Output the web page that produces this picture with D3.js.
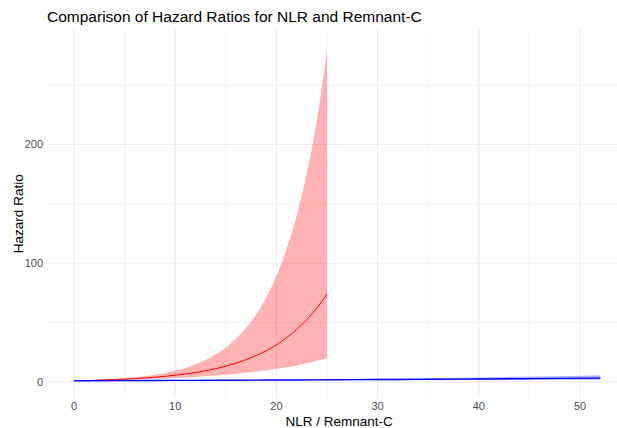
<!DOCTYPE html>
<html>
<head>
<meta charset="utf-8">
<script src="https://cdn.jsdelivr.net/npm/d3@7"></script>
<style>
  body { margin: 0; background: #fff; }
  text { font-family: "Liberation Sans", Arial, sans-serif; }
</style>
</head>
<body>
<div id="chart"></div>
<script>
// NLR curve (red)
var nlrX     = [2, 3, 4, 5, 6, 7, 8, 9, 10, 11, 12, 13, 14, 15, 16, 17, 18, 19, 20, 21, 22, 23, 24, 25];
var nlrHR    = [1.41, 1.68, 1.99, 2.37, 2.81, 3.34, 3.96, 4.71, 5.60, 6.65, 7.90, 9.38, 11.1, 13.2, 15.7, 18.7, 22.2, 26.3, 31.3, 37.2, 44.2, 52.5, 62.3, 74.0];
var nlrUpper = [1.57, 1.96, 2.46, 3.08, 3.85, 4.82, 6.03, 7.55, 9.45, 11.8, 14.8, 18.5, 23.2, 29.0, 36.3, 45.5, 56.9, 71.3, 89.2, 112, 140, 176, 221, 280];
var nlrLower = [1.27, 1.43, 1.61, 1.82, 2.05, 2.31, 2.60, 2.94, 3.31, 3.73, 4.21, 4.74, 5.34, 6.03, 6.79, 7.66, 8.63, 9.73, 11.0, 12.4, 13.9, 15.7, 17.7, 19.9];

// Remnant-C curve (blue)
var remX     = [0, 4, 8, 12, 16, 20, 24, 28, 32, 36, 40, 44, 48, 52];
var remHR    = [1, 1.09, 1.20, 1.31, 1.43, 1.57, 1.71, 1.87, 2.05, 2.24, 2.45, 2.68, 2.93, 3.20];
var remUpper = [1, 1.14, 1.30, 1.48, 1.69, 1.93, 2.20, 2.50, 2.86, 3.26, 3.71, 4.24, 4.83, 5.51];
var remLower = [1, 1.05, 1.10, 1.15, 1.21, 1.27, 1.33, 1.40, 1.47, 1.54, 1.62, 1.70, 1.78, 1.87];

var xTicks = [0, 10, 20, 30, 40, 50];
var xMinor = [5, 15, 25, 35, 45];
var yTicks = [0, 100, 200];
var yMinor = [50, 150, 250];

var W = 617, H = 428;
var panel = {left: 47.7, right: 626.6, top: 29, bottom: 398.5};

var svg = d3.select("#chart")
  .append("svg")
    .attr("width", W)
    .attr("height", H);

var x = d3.scaleLinear()
  .domain([-2.6, 54.6])
  .range([panel.left, panel.right]);

var y = d3.scaleLinear()
  .domain([-14, 297.4])
  .range([panel.bottom, panel.top]);

// gridlines
var grid = svg.append("g");
grid.selectAll(".xminor").data(xMinor).enter().append("line")
  .attr("x1", d => x(d)).attr("x2", d => x(d))
  .attr("y1", panel.top).attr("y2", panel.bottom)
  .attr("stroke", "#ebebeb").attr("stroke-width", 0.6);
grid.selectAll(".yminor").data(yMinor).enter().append("line")
  .attr("x1", panel.left).attr("x2", panel.right)
  .attr("y1", d => y(d)).attr("y2", d => y(d))
  .attr("stroke", "#ebebeb").attr("stroke-width", 0.6);
grid.selectAll(".xmajor").data(xTicks).enter().append("line")
  .attr("x1", d => x(d)).attr("x2", d => x(d))
  .attr("y1", panel.top).attr("y2", panel.bottom)
  .attr("stroke", "#ebebeb").attr("stroke-width", 1.1);
grid.selectAll(".ymajor").data(yTicks).enter().append("line")
  .attr("x1", panel.left).attr("x2", panel.right)
  .attr("y1", d => y(d)).attr("y2", d => y(d))
  .attr("stroke", "#ebebeb").attr("stroke-width", 1.1);

// ribbons
var nlr = nlrX.map((v, i) => ({x: v, hr: nlrHR[i], lo: nlrLower[i], hi: nlrUpper[i]}));
var rem = remX.map((v, i) => ({x: v, hr: remHR[i], lo: remLower[i], hi: remUpper[i]}));

var band = d3.area()
  .curve(d3.curveMonotoneX)
  .x(d => x(d.x))
  .y0(d => y(d.lo))
  .y1(d => y(d.hi));
var line = d3.line()
  .curve(d3.curveMonotoneX)
  .x(d => x(d.x))
  .y(d => y(d.hr));

svg.append("path").datum(nlr)
  .attr("d", band)
  .attr("fill", "#ff0000").attr("fill-opacity", 0.3);
svg.append("path").datum(rem)
  .attr("d", band)
  .attr("fill", "#0000ff").attr("fill-opacity", 0.3);

svg.append("path").datum(nlr)
  .attr("d", line)
  .attr("fill", "none").attr("stroke", "#ff0000").attr("stroke-width", 1);
svg.append("path").datum(rem)
  .attr("d", line)
  .attr("fill", "none").attr("stroke", "#0000ff").attr("stroke-width", 1.4);

// tick labels
svg.append("g").selectAll("text").data(xTicks).enter().append("text")
  .attr("x", d => x(d))
  .attr("y", 410)
  .attr("text-anchor", "middle")
  .attr("font-size", 11)
  .attr("fill", "#4d4d4d")
  .text(d => d);

svg.append("g").selectAll("text").data(yTicks).enter().append("text")
  .attr("x", 43)
  .attr("y", d => y(d))
  .attr("dy", "0.35em")
  .attr("text-anchor", "end")
  .attr("font-size", 11)
  .attr("fill", "#4d4d4d")
  .text(d => d);

// axis titles
svg.append("text")
  .attr("x", (x(0) + x(52)) / 2 + 2)
  .attr("y", 426)
  .attr("text-anchor", "middle")
  .attr("font-size", 13.5)
  .attr("fill", "#000")
  .text("NLR / Remnant-C");

svg.append("text")
  .attr("transform", "translate(23," + ((panel.top + panel.bottom) / 2) + ") rotate(-90)")
  .attr("text-anchor", "middle")
  .attr("font-size", 13.5)
  .attr("fill", "#000")
  .text("Hazard Ratio");

// title
svg.append("text")
  .attr("x", 47)
  .attr("y", 22)
  .attr("font-size", 15.5)
  .attr("fill", "#000")
  .text("Comparison of Hazard Ratios for NLR and Remnant-C");
</script>
</body>
</html>
